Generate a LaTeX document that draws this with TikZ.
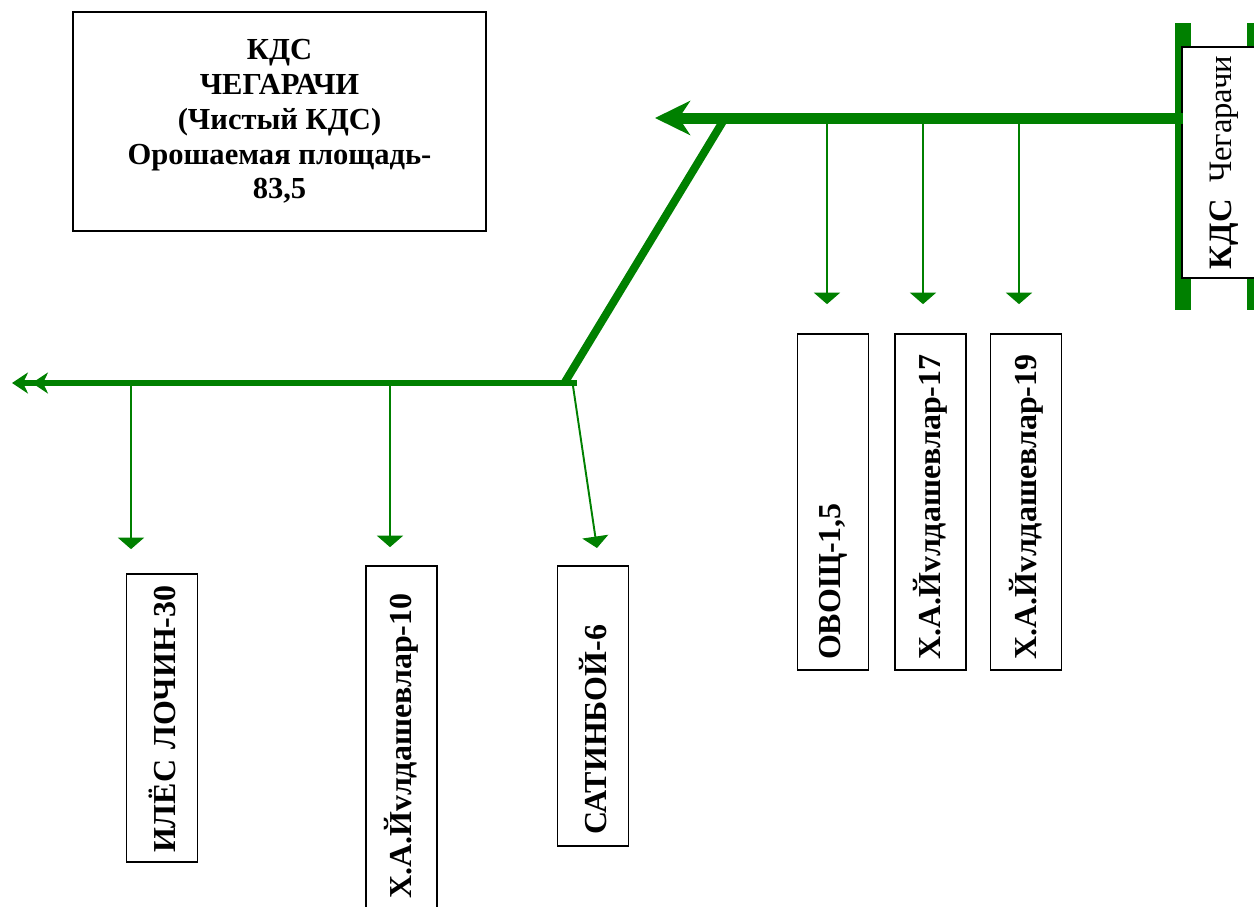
\documentclass[tikz,border=0pt]{standalone}
\usepackage{fontspec}
\setmainfont{Liberation Serif}
\usetikzlibrary{arrows.meta}
\definecolor{canal}{RGB}{0,128,0}
\tikzset{
	txt/.style={font=\bfseries\fontsize{17.4}{19.8}\selectfont},
	plot/.style={font=\bfseries\fontsize{18.2}{20}\selectfont, draw, line width=1pt, fill=white, rotate=90, minimum height=1.42cm, inner sep=0pt, align=left},
	branch/.style={canal, line width=1.1pt, -{Triangle[length=0.23cm, width=0.52cm]}, shorten >=#1},
	branch/.default=0cm,
	bar/.style={canal, line width=0.32cm},
}

\begin{document}
\begin{tikzpicture}
	[x=0.02cm, y=-0.02cm]
	\useasboundingbox (0,0) rectangle (1254,906);
	% channel points
	\coordinate (head) at (1183,118);
	\coordinate (bend) at (725,118);
	\coordinate (upend) at (655,118);
	\coordinate (low) at (565,382);
	\coordinate (lowcap) at (577,383);
	\coordinate (lowend) at (12,383);
	\coordinate (o1) at (827,118);
	\coordinate (o2) at (923,118);
	\coordinate (o3) at (1019,118);
	\coordinate (l1) at (131,383);
	\coordinate (l2) at (390,383);
	\coordinate (l3) at (573,386);
	\coordinate (satin in) at (597,548);
	% boxes
	\node[txt, draw, line width=1pt, minimum width=8.26cm, minimum height=4.38cm, align=center] (title) at (279.5,121.5)
		{КДС\\ЧЕГАРАЧИ\\(Чистый КДС)\\Орошаемая площадь-\\83,5};
	\node[plot, minimum width=6.72cm, text width=6.32cm] (ovosh) at (833,502) {ОВОЩ-1,5};
	\node[plot, minimum width=6.72cm, text width=6.32cm] (yul17) at (930.5,502) {Х.А.Йvлдашевлар-17};
	\node[plot, minimum width=6.72cm, text width=6.32cm] (yul19) at (1026,502) {Х.А.Йvлдашевлар-19};
	\node[plot, minimum width=5.76cm, text width=5.4cm] (iles) at (162,718) {\mbox{ИЛЁС ЛОЧИН-30}};
	\node[plot, minimum width=6.92cm, text width=6.4cm] (yul10) at (401.5,739) {\mbox{Х.А.Йvлдашевлар-10}};
	\node[plot, minimum width=5.6cm, text width=5.16cm] (satin) at (593,706) {САТИНБОЙ-6};
	% head works
	\draw[bar] (1183,23) -- (1183,310);
	\draw[bar] (1255,23) -- (1255,310);
	\node[plot, font=\fontsize{18.6}{20}\selectfont, align=center, minimum width=4.62cm, minimum height=1.68cm] (kds) at (1224,162.5)
		{\textbf{КДС}\ \ Чегарачи};
	% main channel
	\draw[canal, line width=0.22cm, -{Stealth[length=0.7cm, width=0.68cm, inset=0.22cm]}] (head) -- (upend);
	\draw[canal, line width=0.16cm] (bend) -- (low);
	\draw[canal, line width=0.12cm, -{Stealth[length=0.32cm, width=0.42cm, inset=0.1cm, sep=0.08cm] Stealth[length=0.32cm, width=0.42cm, inset=0.1cm]}] (lowcap) -- (lowend);
	% outlets
	\foreach \o/\b in {o1/ovosh, o2/yul17, o3/yul19}
		\draw[branch=0.58cm] (\o) -- (\o |- \b.east);
	\draw[branch=0.48cm] (l1) -- (l1 |- iles.east);
	\draw[branch=0.36cm] (l2) -- (l2 |- yul10.east);
	\draw[branch] (l3) -- (satin in);
\end{tikzpicture}
\end{document}
